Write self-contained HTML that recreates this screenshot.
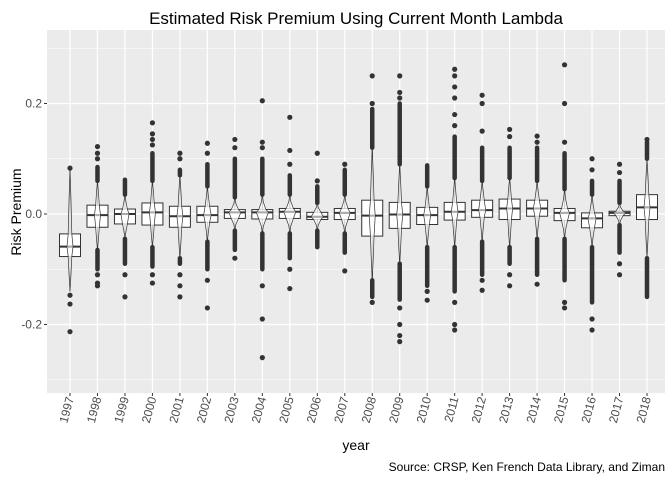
<!DOCTYPE html>
<html><head><meta charset="utf-8"><style>
html,body{margin:0;padding:0;background:#fff}
svg{display:block;font-family:"Liberation Sans",Arial,sans-serif}
</style></head><body>
<svg id="chart" width="672" height="480" viewBox="0 0 672 480">
<rect x="0" y="0" width="672" height="480" fill="#fff"/>
<text x="356" y="24" text-anchor="middle" font-size="17" fill="#000">Estimated Risk Premium Using Current Month Lambda</text>
<rect x="47" y="30" width="618" height="363" fill="#ebebeb"/>
<g id="grid"></g>
<g id="marks"></g>
<g id="axes"></g>
<text x="356" y="450" text-anchor="middle" font-size="14" fill="#000">year</text>
<text transform="translate(21,212) rotate(-90)" text-anchor="middle" font-size="14" fill="#000">Risk Premium</text>
<text x="665" y="471" text-anchor="end" font-size="12" fill="#000">Source: CRSP, Ken French Data Library, and Ziman</text>
</svg>
<script>
const years=[1997,1998,1999,2000,2001,2002,2003,2004,2005,2006,2007,2008,2009,2010,2011,2012,2013,2014,2015,2016,2017,2018];
const q1=[-0.077,-0.024,-0.018,-0.02,-0.024,-0.015,-0.008,-0.009,-0.008,-0.01,-0.01,-0.04,-0.026,-0.019,-0.011,-0.006,-0.01,-0.004,-0.012,-0.025,-0.003,-0.01];
const med=[-0.059,-0.002,0,0.003,-0.004,-0.002,0.003,0.003,0.004,-0.005,0.002,-0.003,-0.001,-0.002,0.004,0.007,0.01,0.01,0.002,-0.008,0.002,0.012];
const q3=[-0.036,0.016,0.009,0.02,0.014,0.014,0.008,0.008,0.01,0.003,0.01,0.025,0.021,0.012,0.021,0.025,0.027,0.025,0.01,0.002,0.005,0.035];
const whiskLo=[-0.14,-0.065,-0.045,-0.06,-0.08,-0.05,-0.03,-0.035,-0.035,-0.03,-0.035,-0.12,-0.09,-0.06,-0.06,-0.05,-0.06,-0.045,-0.045,-0.06,-0.02,-0.08];
const whiskHi=[0.083,0.06,0.035,0.06,0.07,0.05,0.03,0.035,0.035,0.02,0.035,0.12,0.09,0.05,0.065,0.06,0.065,0.06,0.045,0.035,0.02,0.1];
const denseLo=[-0.14,-0.1,-0.09,-0.095,-0.09,-0.1,-0.065,-0.1,-0.08,-0.06,-0.07,-0.15,-0.155,-0.13,-0.14,-0.11,-0.09,-0.11,-0.12,-0.16,-0.07,-0.15];
const denseHi=[0.083,0.085,0.062,0.11,0.08,0.09,0.1,0.1,0.07,0.05,0.08,0.19,0.2,0.088,0.14,0.12,0.12,0.12,0.11,0.06,0.06,0.13];
const outliers=[[0.083,-0.147,-0.163,-0.213],[0.1,0.11,0.122,-0.11,-0.125,-0.13],[-0.11,-0.15],[0.125,0.135,0.145,0.165,-0.11,-0.125],[0.1,0.11,-0.11,-0.13,-0.15],[0.11,0.128,-0.12,-0.17],[0.12,0.135,-0.08],[0.12,0.13,0.205,-0.13,-0.19,-0.26],[0.09,0.115,0.175,-0.1,-0.135],[0.06,0.11],[0.09,-0.103],[0.2,0.25,-0.16],[0.21,0.22,0.25,-0.17,-0.2,-0.22,-0.231],[-0.14,-0.156],[0.16,0.18,0.21,0.23,0.25,0.262,-0.16,-0.2,-0.21],[0.15,0.2,0.215,-0.12,-0.138],[0.14,0.153,-0.11,-0.13],[0.13,0.141,-0.127],[0.13,0.2,0.27,-0.16,-0.17],[0.08,0.1,-0.19,-0.21],[0.075,0.09,-0.09,-0.11],[0.135]];
const yTicks=[-0.2,0,0.2];
const yTickLabels=["-0.2","0.0","0.2"];
const yMinor=[-0.3,-0.1,0.1,0.3];

const NS="http://www.w3.org/2000/svg";
const X0=70,X1=647,Y0=214,PX=552.5;
function xs(i){return X0+i*(X1-X0)/(years.length-1);}
function ys(v){return Y0-v*PX;}
function mk(t,a,p){const e=document.createElementNS(NS,t);for(const k in a)e.setAttribute(k,a[k]);p.appendChild(e);return e;}
const grid=document.getElementById('grid'),marks=document.getElementById('marks'),axes=document.getElementById('axes');
yMinor.forEach(v=>{const l=mk('line',{x1:47,x2:665,y1:ys(v),y2:ys(v),stroke:'#fff','stroke-width':0.6},grid);

});
yTicks.forEach((v,i)=>{const l=mk('line',{x1:47,x2:665,y1:ys(v),y2:ys(v),stroke:'#fff','stroke-width':1.2},grid);


const tk=mk('line',{x1:44,x2:47,y1:ys(v),y2:ys(v),stroke:'#333','stroke-width':1},axes);


const t=mk('text',{x:42,y:ys(v)+4,'text-anchor':'end','font-size':12,fill:'#4d4d4d'},axes);t.textContent=yTickLabels[i];

});
years.forEach((yr,i)=>{const x=xs(i);
const g=mk('line',{x1:x,x2:x,y1:30,y2:393,stroke:'#fff','stroke-width':1.2},grid);


const tk=mk('line',{x1:x,x2:x,y1:393,y2:396,stroke:'#333','stroke-width':1},axes);


const t=mk('text',{transform:`translate(${x+4},398) rotate(-75)`,'text-anchor':'end','font-size':12,fill:'#4d4d4d'},axes);t.textContent=yr;


const grp=mk('g',{},marks);


mk('line',{x1:x,x2:x,y1:ys(denseHi[i]),y2:ys(denseLo[i]),stroke:'#333','stroke-width':1},grp);
if(denseHi[i]>whiskHi[i])mk('line',{x1:x,x2:x,y1:ys(denseHi[i]),y2:ys(whiskHi[i]),stroke:'#333','stroke-width':4.5,'stroke-linecap':'round'},grp);
if(denseLo[i]<whiskLo[i])mk('line',{x1:x,x2:x,y1:ys(denseLo[i]),y2:ys(whiskLo[i]),stroke:'#333','stroke-width':4.5,'stroke-linecap':'round'},grp);
outliers[i].forEach(v=>{const c=mk('circle',{cx:x,cy:ys(v),r:2.6,fill:'#333'},grp);

});
mk('rect',{x:x-10.5,y:ys(q3[i]),width:21,height:ys(q1[i])-ys(q3[i]),fill:'#fff',stroke:'#333','stroke-width':1},grp);
mk('line',{x1:x-10.5,x2:x+10.5,y1:ys(med[i]),y2:ys(med[i]),stroke:'#333','stroke-width':2},grp);
const a=ys(whiskHi[i]),b=ys(q3[i]),m=ys(med[i]),c=ys(q1[i]),d=ys(whiskLo[i]);
const iqr=c-b;const w=Math.max(3,Math.min(6,60/Math.max(iqr,1)));
const pts=[[x,a],[x+1,(a+b)/2],[x+w*0.6,b],[x+w,m],[x+w*0.6,c],[x+1,(c+d)/2],[x,d],[x-1,(c+d)/2],[x-w*0.6,c],[x-w,m],[x-w*0.6,b],[x-1,(a+b)/2]];
const v=mk('polygon',{points:pts.map(p=>p.join(',')).join(' '),fill:'#fff','fill-opacity':0.75,stroke:'#333','stroke-width':0.7},grp);


mk('line',{x1:x-w+1,x2:x+w-1,y1:m,y2:m,stroke:'#aaa','stroke-width':2},grp);
});
</script>
</body></html>
